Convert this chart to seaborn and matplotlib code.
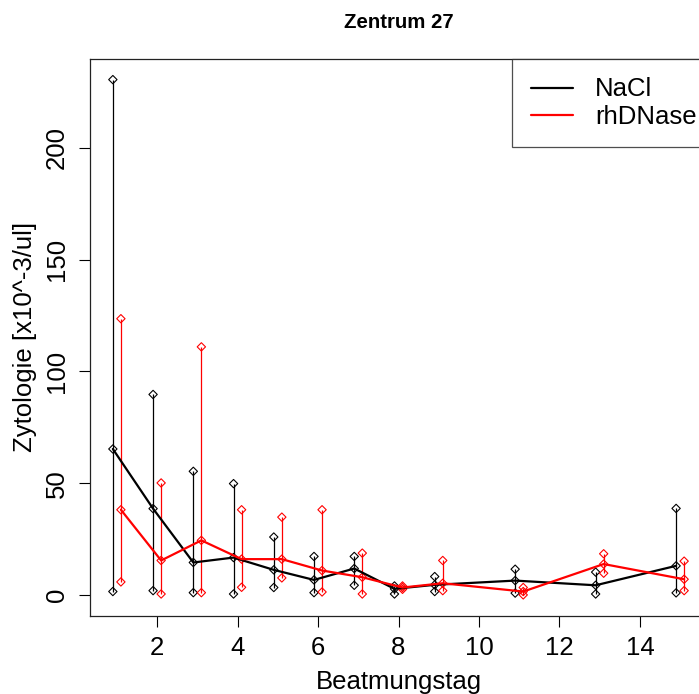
import numpy as np
import pandas as pd
import matplotlib
matplotlib.use("Agg")
import matplotlib.pyplot as plt
import seaborn as sns

# ---- data ----
days = [1, 2, 3, 4, 5, 6, 7, 8, 9, 11, 13, 15]

nacl_mean = [65.3, 38.6, 14.5, 16.7, 11.2, 6.7, 11.8, 2.7, 4.5, 6.4, 4.3, 13.0]
nacl_low  = [1.5, 1.9, 1.0, 0.4, 3.3, 1.0, 4.3, 0.4, 1.5, 0.8, 0.4, 0.9]
nacl_high = [230.6, 89.7, 55.3, 49.8, 25.9, 17.2, 17.2, 4.0, 8.2, 11.5, 10.2, 38.7]

rhd_mean = [38.1, 15.4, 24.4, 16.0, 16.0, 10.9, 7.9, 3.3, 5.2, 1.5, 13.8, 7.0]
rhd_low  = [5.8, 0.4, 1.0, 3.4, 7.6, 1.3, 0.4, 2.5, 1.9, 0.0, 9.7, 1.9]
rhd_high = [123.6, 50.1, 111.0, 38.1, 34.8, 38.1, 18.7, 4.0, 15.4, 3.3, 18.4, 15.1]

groups = ["NaCl", "rhDNase"]
colors = {"NaCl": "#000000", "rhDNase": "#FF0000"}
offsets = {"NaCl": -0.1, "rhDNase": 0.1}

title = "Zentrum 27"
xlabel = "Beatmungstag"
ylabel = "Zytologie [x10^-3/ul]"
xticks = [2, 4, 6, 8, 10, 12, 14]
yticks = [0, 50, 100, 150, 200]

# ---- build long table ----
frames = []
for g, m, lo, hi in [("NaCl", nacl_mean, nacl_low, nacl_high),
                     ("rhDNase", rhd_mean, rhd_low, rhd_high)]:
    frames.append(pd.DataFrame({"group": g, "day": days, "mean": m,
                                "low": lo, "high": hi}))
df = pd.concat(frames, ignore_index=True)
df["x"] = df["day"] + df["group"].map(offsets)

# ---- styling ----
sns.set_style("ticks")
plt.rcParams["font.family"] = ["Liberation Sans", "DejaVu Sans"]
plt.rcParams["text.color"] = "black"
plt.rcParams["axes.labelcolor"] = "black"
plt.rcParams["xtick.color"] = "black"
plt.rcParams["ytick.color"] = "black"
FS = 18.5

fig = plt.figure(figsize=(6.99, 6.94), dpi=100)
W, H = 699, 694
L, R, T, B = 90, 707, 59, 615.5
ax = fig.add_axes([L / W, (H - B) / H, (R - L) / W, (B - T) / H])

for g in groups:
    sub = df[df["group"] == g]
    c = colors[g]
    ax.vlines(sub["x"], sub["low"], sub["high"], color=c, lw=0.9, zorder=2)
    pts = pd.concat([
        sub[["x"]].assign(y=sub["low"]),
        sub[["x"]].assign(y=sub["high"]),
        sub[["x"]].assign(y=sub["mean"]),
    ])
    sns.scatterplot(data=pts, x="x", y="y", marker="D", s=18,
                    facecolor="none", edgecolor=c, linewidth=0.8,
                    ax=ax, zorder=3, legend=False)
    sns.lineplot(data=sub, x="x", y="mean", color=c, lw=1.6, ax=ax,
                 label=g, zorder=4, sort=False)

# R-style 4% padding
xmin, xmax = df["x"].min(), df["x"].max()
ymin, ymax = min(df["low"].min(), 0), df["high"].max()
ax.set_xlim(xmin - 0.04 * (xmax - xmin), xmax + 0.04 * (xmax - xmin))
ax.set_ylim(ymin - 0.04 * (ymax - ymin), ymax + 0.04 * (ymax - ymin))

ax.set_xticks(xticks)
ax.set_yticks(yticks)
ax.tick_params(axis="both", direction="out", length=8, width=0.8,
               labelsize=FS, color="black", labelcolor="black")
ax.tick_params(axis="x", pad=7)
ax.tick_params(axis="y", pad=7)
for lab in ax.get_yticklabels():
    lab.set_rotation(90)
    lab.set_va("center")

for s in ax.spines.values():
    s.set_visible(True)
    s.set_color("#222222")
    s.set_linewidth(0.9)

ax.set_xlabel(xlabel, fontsize=FS, va="center", color="black")
ax.xaxis.set_label_coords(0.5, (B - 682) / (B - T))
ax.set_ylabel(ylabel, fontsize=FS, va="center", color="black")
ax.yaxis.set_label_coords((25 - L) / (R - L), 0.5)
ax.set_title(title, fontsize=14.7, fontweight="bold", va="center",
             y=(B - 22.5) / (B - T), pad=0, color="black")

leg = ax.legend(loc="upper right", bbox_to_anchor=(1 + 8 / (R - L), 1),
                borderaxespad=0, fontsize=FS,
                frameon=True, fancybox=False, edgecolor="#222222",
                handlelength=1.65, handletextpad=0.85, borderpad=0.72,
                labelspacing=0.12)
leg.get_frame().set_linewidth(0.9)
for t in leg.get_texts():
    t.set_color("black")
for line in leg.get_lines():
    line.set_linewidth(1.6)

fig.savefig("out.png", dpi=100, facecolor="white")
